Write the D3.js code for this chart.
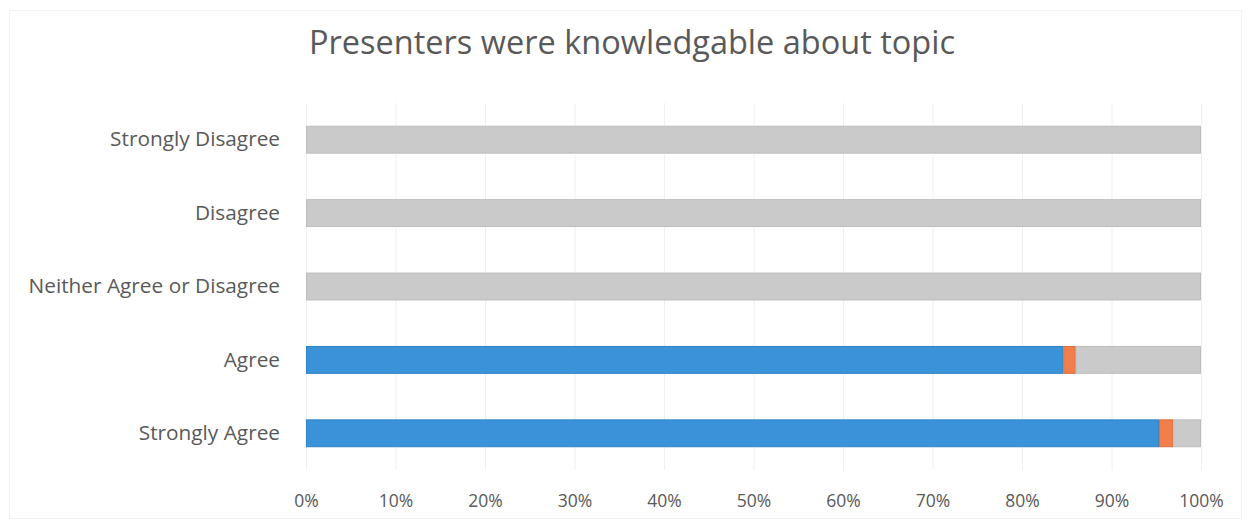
<!DOCTYPE html>
<html>
<head>
<meta charset="utf-8">
<script src="https://cdn.jsdelivr.net/npm/d3@7"></script>
<style>
  html, body { margin: 0; padding: 0; background: #fff; }
  svg { display: block; }
  text { font-family: "Open Sans", "Noto Sans", sans-serif; fill: #595959; }
</style>
</head>
<body>
<svg id="chart" width="1251" height="529"></svg>
<script>
// Response categories, top to bottom
const categories = ["Strongly Disagree", "Disagree", "Neither Agree or Disagree", "Agree", "Strongly Agree"];
// Stacked shares (percent) for each category
const blueSeries   = [0, 0, 0, 84.6, 95.3];
const orangeSeries = [0, 0, 0, 1.4, 1.6];
const graySeries   = [100, 100, 100, 14.0, 3.1];
const tickValues = [0, 10, 20, 30, 40, 50, 60, 70, 80, 90, 100];
const title = "Presenters were knowledgable about topic";

const seriesKeys = ["blue", "orange", "gray"];
const colors = { blue: "#3a93d8", orange: "#f07f4c", gray: "#cacaca" };
const strokes = { blue: "#2f82c4", orange: "#e06a35", gray: "#bdbdbd" };

const rows = categories.map((c, i) => ({
  category: c, blue: blueSeries[i], orange: orangeSeries[i], gray: graySeries[i]
}));

const svg = d3.select("#chart");
const W = 1251, H = 529;

// faint outer frame
svg.append("rect").attr("x", 9.5).attr("y", 10.5).attr("width", W - 19).attr("height", H - 21)
  .attr("fill", "none").attr("stroke", "#f2f2f2");

const x = d3.scaleLinear().domain([0, 100]).range([306, 1201]);
const y = d3.scaleBand().domain(categories).range([103, 470])
  .paddingInner(0.62).paddingOuter(0.31);

// vertical gridlines
svg.append("g").selectAll("line").data(tickValues).join("line")
  .attr("x1", d => x(d) + 0.5).attr("x2", d => x(d) + 0.5)
  .attr("y1", 103).attr("y2", 470)
  .attr("stroke", "#f0f0f0").attr("stroke-width", 1);

const stack = d3.stack().keys(seriesKeys)(rows);

svg.append("g").selectAll("g").data(stack).join("g")
  .attr("fill", d => colors[d.key])
  .attr("stroke", d => strokes[d.key])
  .selectAll("rect").data(d => d.filter(p => p[1] - p[0] > 0)).join("rect")
    .attr("x", d => x(d[0]) + 0.5)
    .attr("y", d => y(d.data.category) + 0.5)
    .attr("width", d => Math.max(0, x(d[1]) - x(d[0]) - 1))
    .attr("height", y.bandwidth() - 1)
    .attr("stroke-width", 1);

// category axis labels
const yAxis = d3.axisLeft(y).tickSize(0).tickPadding(0);
svg.append("g").attr("transform", "translate(280,0)").call(yAxis)
  .call(g => g.select(".domain").remove())
  .selectAll("text")
    .attr("font-size", 20.8)
    .style("font-family", "'Open Sans', sans-serif")
    .attr("fill", "#595959");

// percentage axis
const xAxis = d3.axisBottom(x).tickValues(tickValues).tickFormat(d => d + "%").tickSize(0).tickPadding(0);
svg.append("g").attr("transform", "translate(0,495)").call(xAxis)
  .call(g => g.select(".domain").remove())
  .selectAll("text")
    .attr("font-size", 17.5)
    .style("font-family", "'Open Sans', sans-serif")
    .attr("fill", "#595959");

// title
svg.append("text").attr("x", 632).attr("y", 54).attr("text-anchor", "middle")
  .attr("font-size", 32.5).attr("fill", "#636363").text(title);
</script>
</body>
</html>
